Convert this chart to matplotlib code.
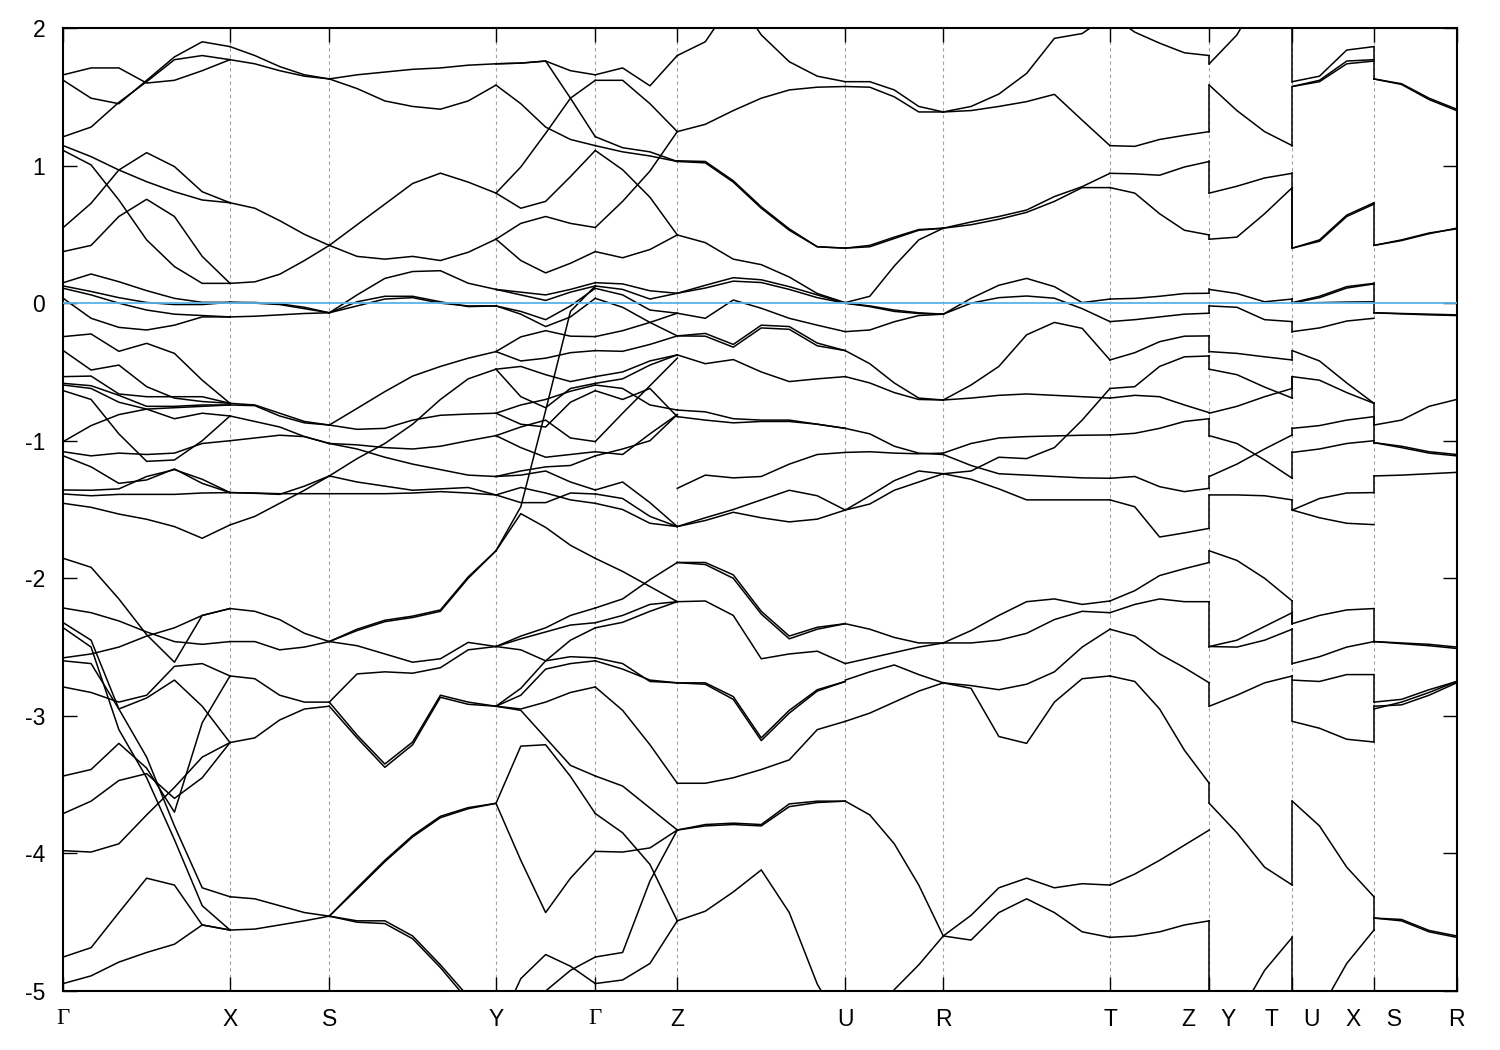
import numpy as np
import matplotlib.pyplot as plt

plt.rcParams['font.family'] = ['Liberation Sans', 'DejaVu Sans']
plt.rcParams['axes.unicode_minus'] = False

# distance along the k-path of the high-symmetry points
kpos = [0.0, 166.7, 266.0, 432.7, 532.0, 614.0, 782.0, 880.0, 1046.7,
        1146.0, 1229.0, 1310.7, 1393.4]
klabels = ['Γ', 'X', 'S', 'Y', 'Γ', 'Z', 'U', 'R', 'T',
           'Z    Y', 'T    U', 'X    S', 'R']

# band energies (eV) read along each segment, evenly spaced samples
seg_GX = [
    [1.66, 1.71, 1.71, 1.60, 1.62, 1.69, 1.77],
    [1.62, 1.49, 1.45, 1.62, 1.79, 1.90, 1.865],
    [1.21, 1.28, 1.46, 1.61, 1.77, 1.80, 1.77],
    [1.145, 1.065, 0.968, 0.883, 0.81, 0.75, 0.73],
    [1.11, 1.005, 0.75, 0.46, 0.266, 0.144, 0.144],
    [0.55, 0.726, 0.968, 1.094, 0.993, 0.81, 0.73],
    [0.375, 0.42, 0.63, 0.755, 0.63, 0.34, 0.144],
    [0.149, 0.212, 0.156, 0.091, 0.035, 0.006, 0.006],
    [0.125, 0.085, 0.04, 0.005, -0.01, -0.01, 0.006],
    [0.108, 0.06, 0.0, -0.05, -0.08, -0.09, -0.10],
    [0.035, -0.11, -0.176, -0.195, -0.16, -0.10, -0.10],
    [-0.243, -0.224, -0.35, -0.292, -0.365, -0.56, -0.728],
    [-0.345, -0.486, -0.45, -0.607, -0.69, -0.715, -0.728],
    [-0.534, -0.53, -0.66, -0.68, -0.68, -0.68, -0.728],
    [-0.583, -0.60, -0.67, -0.75, -0.75, -0.74, -0.74],
    [-0.595, -0.62, -0.72, -0.77, -0.84, -0.80, -0.82],
    [-0.636, -0.70, -0.95, -1.15, -1.14, -1.0, -0.82],
    [-1.006, -0.89, -0.81, -0.77, -0.76, -0.75, -0.74],
    [-1.08, -1.11, -1.09, -1.10, -1.09, -1.02, -1.0],
    [-1.11, -1.19, -1.31, -1.285, -1.205, -1.31, -1.377],
    [-1.358, -1.36, -1.35, -1.26, -1.21, -1.28, -1.377],
    [-1.387, -1.40, -1.39, -1.39, -1.39, -1.38, -1.377],
    [-1.455, -1.484, -1.533, -1.571, -1.624, -1.709, -1.612],
    [-1.855, -1.92, -2.15, -2.41, -2.61, -2.27, -2.22],
    [-2.216, -2.25, -2.31, -2.39, -2.46, -2.48, -2.46],
    [-2.323, -2.45, -2.95, -3.30, -3.80, -4.25, -4.315],
    [-2.36, -2.50, -3.10, -3.45, -3.90, -4.38, -4.557],
    [-2.578, -2.55, -2.50, -2.42, -2.36, -2.27, -2.22],
    [-2.60, -2.62, -2.95, -2.87, -2.74, -2.93, -3.194],
    [-2.79, -2.83, -2.90, -2.85, -2.64, -2.62, -2.71],
    [-3.437, -3.39, -3.20, -3.38, -3.70, -3.05, -2.71],
    [-3.71, -3.62, -3.47, -3.42, -3.60, -3.45, -3.194],
    [-3.98, -3.99, -3.93, -3.72, -3.52, -3.30, -3.194],
    [-4.753, -4.685, -4.43, -4.18, -4.23, -4.52, -4.557],
    [-4.946, -4.89, -4.79, -4.72, -4.66, -4.52, -4.557],
]

seg_XS = [
    [1.865, 1.80, 1.72, 1.66, 1.63],
    [1.77, 1.74, 1.69, 1.65, 1.63],
    [0.73, 0.69, 0.60, 0.50, 0.42],
    [0.144, 0.155, 0.21, 0.31, 0.42],
    [0.006, 0.0, -0.01, -0.04, -0.07],
    [0.006, 0.005, -0.005, -0.03, -0.07],
    [-0.10, -0.095, -0.085, -0.075, -0.07],
    [-0.728, -0.74, -0.80, -0.86, -0.886],
    [-0.74, -0.745, -0.82, -0.87, -0.886],
    [-0.82, -0.86, -0.90, -0.97, -1.02],
    [-1.0, -0.98, -0.96, -0.97, -1.02],
    [-1.377, -1.382, -1.39, -1.33, -1.256],
    [-1.377, -1.38, -1.385, -1.385, -1.385],
    [-1.612, -1.55, -1.455, -1.36, -1.256],
    [-2.22, -2.24, -2.30, -2.40, -2.46],
    [-2.46, -2.46, -2.52, -2.50, -2.46],
    [-2.71, -2.73, -2.85, -2.90, -2.90],
    [-3.194, -3.16, -3.03, -2.95, -2.93],
    [-4.315, -4.33, -4.38, -4.43, -4.456],
    [-4.557, -4.55, -4.52, -4.49, -4.456],
]

seg_SY = [
    [1.63, 1.66, 1.68, 1.70, 1.71, 1.73, 1.74],
    [1.63, 1.56, 1.47, 1.43, 1.41, 1.47, 1.585],
    [0.42, 0.57, 0.72, 0.87, 0.945, 0.88, 0.80],
    [0.42, 0.34, 0.32, 0.34, 0.31, 0.37, 0.465],
    [-0.07, 0.06, 0.18, 0.23, 0.236, 0.145, 0.10],
    [-0.07, 0.01, 0.05, 0.05, 0.01, -0.025, -0.02],
    [-0.07, -0.02, 0.03, 0.04, 0.0, -0.02, -0.02],
    [-0.886, -0.765, -0.643, -0.53, -0.46, -0.40, -0.352],
    [-0.886, -0.917, -0.91, -0.85, -0.815, -0.806, -0.80],
    [-1.02, -1.03, -1.05, -1.06, -1.04, -1.00, -0.963],
    [-1.02, -1.06, -1.12, -1.17, -1.21, -1.25, -1.26],
    [-1.256, -1.13, -1.02, -0.88, -0.70, -0.55, -0.48],
    [-1.256, -1.30, -1.33, -1.36, -1.35, -1.34, -1.394],
    [-1.385, -1.385, -1.385, -1.38, -1.37, -1.38, -1.394],
    [-2.46, -2.37, -2.305, -2.275, -2.23, -1.99, -1.80],
    [-2.46, -2.38, -2.315, -2.285, -2.24, -2.00, -1.80],
    [-2.46, -2.49, -2.55, -2.61, -2.585, -2.466, -2.496],
    [-2.90, -2.695, -2.68, -2.69, -2.65, -2.52, -2.496],
    [-2.93, -3.16, -3.374, -3.21, -2.865, -2.916, -2.93],
    [-2.90, -3.14, -3.35, -3.19, -2.85, -2.90, -2.93],
    [-4.456, -4.25, -4.05, -3.87, -3.73, -3.667, -3.636],
    [-4.456, -4.26, -4.06, -3.88, -3.74, -3.675, -3.636],
    [-4.456, -4.49, -4.49, -4.60, -4.81, -5.04, -5.3],
    [-4.456, -4.50, -4.51, -4.62, -4.83, -5.07, -5.3],
]

seg_YG = [
    [1.74, 1.745, 1.76, 1.69, 1.66],
    [1.74, 1.745, 1.76, 1.49, 1.21],
    [1.585, 1.45, 1.28, 1.19, 1.145],
    [0.80, 0.99, 1.235, 1.49, 1.62],
    [0.80, 0.69, 0.74, 0.92, 1.11],
    [0.465, 0.58, 0.63, 0.58, 0.55],
    [0.465, 0.31, 0.22, 0.29, 0.375],
    [0.10, 0.08, 0.06, 0.10, 0.149],
    [0.10, 0.06, 0.02, 0.08, 0.125],
    [-0.02, -0.06, -0.12, -0.02, 0.108],
    [-0.02, -0.08, -0.17, -0.10, 0.035],
    [-1.80, -1.48, -0.78, -0.06, 0.125],
    [-0.352, -0.245, -0.20, -0.24, -0.243],
    [-0.352, -0.42, -0.40, -0.36, -0.345],
    [-0.48, -0.46, -0.52, -0.57, -0.534],
    [-0.48, -0.68, -0.76, -0.62, -0.583],
    [-0.80, -0.74, -0.70, -0.64, -0.595],
    [-0.80, -0.88, -0.90, -0.72, -0.636],
    [-0.963, -0.90, -0.85, -0.98, -1.006],
    [-0.963, -1.05, -1.12, -1.10, -1.08],
    [-1.26, -1.22, -1.19, -1.18, -1.11],
    [-1.26, -1.25, -1.22, -1.30, -1.358],
    [-1.394, -1.45, -1.45, -1.38, -1.387],
    [-1.394, -1.34, -1.38, -1.43, -1.455],
    [-1.80, -1.53, -1.63, -1.76, -1.855],
    [-2.496, -2.42, -2.36, -2.27, -2.216],
    [-2.496, -2.44, -2.39, -2.34, -2.323],
    [-2.496, -2.52, -2.60, -2.45, -2.36],
    [-2.93, -2.80, -2.60, -2.57, -2.578],
    [-2.93, -2.85, -2.66, -2.62, -2.60],
    [-2.93, -2.95, -2.90, -2.83, -2.79],
    [-2.93, -2.96, -3.16, -3.36, -3.437],
    [-3.636, -3.22, -3.21, -3.44, -3.71],
    [-3.636, -4.05, -4.43, -4.18, -3.985],
    [-5.3, -4.91, -4.735, -4.82, -4.946],
    [-5.4, -5.3, -5.0, -4.85, -4.753],
]

seg_GZ = [
    [1.66, 1.71, 1.58, 1.80],
    [1.62, 1.62, 1.45, 1.247],
    [1.21, 1.13, 1.10, 1.03],
    [1.145, 1.10, 1.07, 1.03],
    [1.11, 0.97, 0.77, 0.496],
    [0.55, 0.74, 0.96, 1.247],
    [0.375, 0.33, 0.39, 0.496],
    [0.149, 0.14, 0.09, 0.072],
    [0.125, 0.10, 0.03, 0.072],
    [0.108, 0.06, -0.05, -0.073],
    [0.035, -0.03, -0.14, -0.073],
    [-0.243, -0.20, -0.14, -0.238],
    [-0.345, -0.35, -0.30, -0.238],
    [-0.534, -0.50, -0.42, -0.376],
    [-0.583, -0.55, -0.45, -0.376],
    [-0.595, -0.62, -0.74, -0.777],
    [-0.636, -0.70, -0.62, -0.825],
    [-1.006, -0.80, -0.60, -0.40],
    [-1.08, -1.10, -0.95, -0.81],
    [-1.11, -1.06, -1.0, -0.81],
    [-1.358, -1.30, -1.45, -1.624],
    [-1.387, -1.42, -1.55, -1.624],
    [-1.455, -1.50, -1.60, -1.624],
    [-1.855, -1.95, -2.06, -2.17],
    [-2.216, -2.15, -2.01, -1.885],
    [-2.323, -2.27, -2.19, -2.17],
    [-2.36, -2.32, -2.24, -2.17],
    [-2.578, -2.62, -2.75, -2.76],
    [-2.60, -2.66, -2.74, -2.76],
    [-2.79, -2.96, -3.21, -3.49],
    [-3.437, -3.51, -3.67, -3.83],
    [-3.71, -3.85, -4.08, -4.49],
    [-3.985, -3.99, -3.96, -3.83],
    [-4.753, -4.72, -4.20, -3.83],
    [-4.946, -4.92, -4.80, -4.49],
]

seg_ZU = [
    [1.80, 1.90, 2.2, 2.5, 2.6, 2.6, 2.6],
    [2.6, 2.5, 2.25, 1.95, 1.755, 1.65, 1.61],
    [1.247, 1.30, 1.40, 1.49, 1.55, 1.57, 1.575],
    [1.035, 1.03, 0.89, 0.70, 0.54, 0.41, 0.40],
    [1.03, 1.02, 0.88, 0.69, 0.53, 0.41, 0.40],
    [0.496, 0.44, 0.32, 0.28, 0.19, 0.07, 0.004],
    [0.072, 0.13, 0.185, 0.17, 0.12, 0.06, 0.0],
    [0.072, 0.11, 0.16, 0.15, 0.10, 0.04, 0.0],
    [-0.073, -0.11, 0.023, -0.037, -0.11, -0.16, -0.207],
    [-0.238, -0.22, -0.30, -0.16, -0.17, -0.29, -0.345],
    [-0.238, -0.24, -0.32, -0.18, -0.19, -0.31, -0.345],
    [-0.376, -0.44, -0.41, -0.50, -0.57, -0.55, -0.534],
    [-0.777, -0.79, -0.84, -0.85, -0.85, -0.88, -0.91],
    [-0.825, -0.85, -0.87, -0.86, -0.86, -0.88, -0.91],
    [-1.346, -1.25, -1.27, -1.26, -1.17, -1.10, -1.085],
    [-1.624, -1.56, -1.50, -1.43, -1.36, -1.40, -1.504],
    [-1.624, -1.58, -1.52, -1.56, -1.59, -1.57, -1.504],
    [-1.885, -1.885, -1.975, -2.24, -2.42, -2.356, -2.33],
    [-1.885, -1.90, -2.0, -2.26, -2.44, -2.37, -2.33],
    [-2.17, -2.165, -2.27, -2.585, -2.55, -2.53, -2.62],
    [-2.76, -2.76, -2.86, -3.16, -2.96, -2.81, -2.75],
    [-2.76, -2.77, -2.88, -3.18, -2.98, -2.82, -2.75],
    [-3.49, -3.49, -3.45, -3.39, -3.32, -3.10, -3.04],
    [-3.83, -3.79, -3.78, -3.79, -3.64, -3.62, -3.62],
    [-3.83, -3.80, -3.79, -3.80, -3.66, -3.63, -3.62],
    [-4.49, -4.42, -4.28, -4.12, -4.43, -4.95, -5.3],
]

seg_UR = [
    [1.61, 1.61, 1.55, 1.43, 1.39],
    [1.575, 1.57, 1.50, 1.39, 1.39],
    [0.40, 0.41, 0.47, 0.53, 0.545],
    [0.40, 0.42, 0.48, 0.535, 0.545],
    [0.004, 0.05, 0.27, 0.46, 0.545],
    [0.0, -0.025, -0.06, -0.075, -0.08],
    [0.0, -0.02, -0.05, -0.07, -0.08],
    [-0.207, -0.195, -0.135, -0.09, -0.08],
    [-0.345, -0.44, -0.58, -0.69, -0.704],
    [-0.534, -0.58, -0.65, -0.70, -0.704],
    [-0.91, -0.95, -1.04, -1.09, -1.10],
    [-1.085, -1.08, -1.09, -1.095, -1.09],
    [-1.504, -1.40, -1.29, -1.22, -1.24],
    [-1.504, -1.46, -1.36, -1.30, -1.24],
    [-2.33, -2.37, -2.43, -2.47, -2.47],
    [-2.62, -2.58, -2.54, -2.50, -2.47],
    [-2.74, -2.68, -2.63, -2.70, -2.76],
    [-3.04, -2.98, -2.90, -2.82, -2.76],
    [-3.62, -3.72, -3.93, -4.23, -4.60],
    [-5.5, -5.3, -4.99, -4.81, -4.60],
]

seg_RT = [
    [1.39, 1.43, 1.52, 1.67, 1.925, 1.96, 2.1],
    [1.39, 1.40, 1.43, 1.465, 1.518, 1.33, 1.145],
    [0.545, 0.59, 0.63, 0.677, 0.775, 0.847, 0.944],
    [0.545, 0.57, 0.61, 0.66, 0.74, 0.84, 0.84],
    [-0.08, 0.035, 0.13, 0.18, 0.12, 0.004, 0.03],
    [-0.08, 0.0, 0.04, 0.052, 0.036, -0.04, -0.134],
    [-0.704, -0.595, -0.46, -0.23, -0.14, -0.183, -0.413],
    [-0.704, -0.69, -0.67, -0.66, -0.67, -0.68, -0.69],
    [-1.09, -1.02, -0.98, -0.97, -0.965, -0.96, -0.958],
    [-1.10, -1.18, -1.24, -1.25, -1.26, -1.27, -1.273],
    [-1.24, -1.22, -1.12, -1.13, -1.05, -0.85, -0.62],
    [-1.24, -1.28, -1.35, -1.43, -1.43, -1.43, -1.43],
    [-2.47, -2.38, -2.27, -2.17, -2.15, -2.19, -2.165],
    [-2.47, -2.47, -2.45, -2.40, -2.30, -2.24, -2.25],
    [-2.76, -2.78, -2.81, -2.77, -2.68, -2.50, -2.37],
    [-2.76, -2.80, -3.15, -3.20, -2.90, -2.73, -2.71],
    [-4.60, -4.45, -4.25, -4.18, -4.25, -4.22, -4.23],
    [-4.60, -4.63, -4.43, -4.33, -4.43, -4.57, -4.61],
]

seg_TZ = [
    [2.1, 1.97, 1.89, 1.82, 1.80],
    [1.145, 1.14, 1.19, 1.22, 1.247],
    [0.944, 0.94, 0.93, 0.99, 1.03],
    [0.84, 0.80, 0.65, 0.53, 0.496],
    [0.03, 0.035, 0.05, 0.07, 0.072],
    [-0.134, -0.12, -0.10, -0.08, -0.073],
    [-0.413, -0.36, -0.28, -0.24, -0.238],
    [-0.62, -0.607, -0.46, -0.39, -0.384],
    [-0.69, -0.67, -0.68, -0.74, -0.796],
    [-0.958, -0.946, -0.91, -0.86, -0.84],
    [-1.273, -1.26, -1.334, -1.37, -1.346],
    [-1.43, -1.48, -1.70, -1.67, -1.637],
    [-2.165, -2.09, -1.98, -1.93, -1.885],
    [-2.25, -2.19, -2.15, -2.17, -2.17],
    [-2.37, -2.42, -2.55, -2.65, -2.76],
    [-2.71, -2.75, -2.95, -3.25, -3.49],
    [-4.23, -4.15, -4.05, -3.94, -3.83],
    [-4.61, -4.60, -4.57, -4.52, -4.49],
]

seg_YT = [
    [1.74, 1.95, 2.3, 2.5],
    [1.585, 1.40, 1.247, 1.145],
    [0.80, 0.85, 0.91, 0.944],
    [0.465, 0.48, 0.65, 0.84],
    [0.10, 0.07, 0.01, 0.03],
    [-0.02, -0.03, -0.12, -0.134],
    [-0.352, -0.365, -0.39, -0.413],
    [-0.48, -0.52, -0.61, -0.69],
    [-0.80, -0.75, -0.68, -0.62],
    [-0.963, -1.02, -1.14, -1.273],
    [-1.26, -1.17, -1.06, -0.958],
    [-1.394, -1.394, -1.40, -1.43],
    [-1.80, -1.87, -2.0, -2.165],
    [-2.496, -2.45, -2.35, -2.25],
    [-2.496, -2.50, -2.45, -2.37],
    [-2.93, -2.85, -2.76, -2.71],
    [-3.636, -3.85, -4.10, -4.23],
    [-5.5, -5.2, -4.85, -4.61],
]

seg_UX = [
    [1.61, 1.65, 1.84, 1.865],
    [1.575, 1.62, 1.76, 1.77],
    [1.575, 1.61, 1.74, 1.76],
    [0.40, 0.46, 0.64, 0.73],
    [0.40, 0.45, 0.63, 0.72],
    [0.004, 0.05, 0.12, 0.144],
    [0.0, 0.04, 0.11, 0.14],
    [0.0, 0.004, 0.008, 0.01],
    [-0.207, -0.18, -0.13, -0.11],
    [-0.345, -0.42, -0.58, -0.728],
    [-0.534, -0.56, -0.65, -0.728],
    [-0.91, -0.89, -0.85, -0.825],
    [-1.085, -1.06, -1.02, -1.0],
    [-1.504, -1.42, -1.38, -1.377],
    [-1.504, -1.56, -1.60, -1.61],
    [-2.33, -2.27, -2.23, -2.22],
    [-2.62, -2.57, -2.50, -2.46],
    [-2.74, -2.75, -2.70, -2.70],
    [-3.04, -3.09, -3.17, -3.19],
    [-3.62, -3.80, -4.10, -4.315],
    [-5.5, -5.15, -4.80, -4.557],
]

seg_SR = [
    [1.63, 1.59, 1.48, 1.40],
    [1.63, 1.595, 1.49, 1.41],
    [0.42, 0.46, 0.51, 0.54],
    [0.42, 0.455, 0.505, 0.545],
    [-0.07, -0.075, -0.08, -0.085],
    [-0.07, -0.078, -0.085, -0.09],
    [-0.886, -0.85, -0.75, -0.70],
    [-1.014, -1.04, -1.08, -1.10],
    [-1.014, -1.05, -1.09, -1.11],
    [-1.256, -1.25, -1.24, -1.23],
    [-2.46, -2.47, -2.48, -2.50],
    [-2.46, -2.475, -2.49, -2.51],
    [-2.90, -2.88, -2.81, -2.75],
    [-2.93, -2.92, -2.85, -2.76],
    [-2.95, -2.90, -2.83, -2.75],
    [-4.47, -4.48, -4.56, -4.60],
    [-4.47, -4.49, -4.57, -4.61],
]

# energies joined by vertical jumps at the path discontinuities
break_ZY = [(1.80, 1.74), (1.247, 1.585), (1.03, 0.80), (0.496, 0.465),
            (0.072, 0.10), (-0.073, -0.02), (-0.238, -0.352), (-0.384, -0.48),
            (-0.796, -0.80), (-0.84, -0.963), (-1.346, -1.26), (-1.637, -1.394),
            (-1.885, -1.80), (-2.17, -2.496), (-2.76, -2.93), (-3.49, -3.636),
            (-4.49, -5.5)]
break_TU = [(2.5, 1.61), (1.145, 1.575), (0.944, 0.40), (0.84, 0.40),
            (0.03, 0.004), (-0.134, -0.207), (-0.413, -0.345), (-0.62, -0.534),
            (-0.69, -0.534), (-0.958, -0.91), (-1.273, -1.085), (-1.43, -1.504),
            (-2.165, -2.33), (-2.25, -2.33), (-2.37, -2.62), (-2.71, -3.04),
            (-4.23, -3.62), (-4.61, -5.5)]
break_XS = [(1.865, 1.63), (0.73, 0.42), (0.144, -0.07), (-0.728, -0.886),
            (-0.825, -1.014), (-1.377, -1.256), (-2.22, -2.46), (-2.70, -2.90),
            (-3.19, -2.93), (-4.315, -4.47), (-4.557, -4.47)]

segments = [(0, 1, seg_GX), (1, 2, seg_XS), (2, 3, seg_SY), (3, 4, seg_YG),
            (4, 5, seg_GZ), (5, 6, seg_ZU), (6, 7, seg_UR), (7, 8, seg_RT),
            (8, 9, seg_TZ), (9, 10, seg_YT), (10, 11, seg_UX), (11, 12, seg_SR)]
breaks = [(9, break_ZY), (10, break_TU), (11, break_XS)]

fig = plt.figure(figsize=(15, 10.5), dpi=100)
ax = fig.add_axes([0.0422, 0.0562, 0.9289, 0.9171])

# dashed lines at the high-symmetry points
for k in kpos[1:-1]:
    ax.axvline(k, color='#a0a0a0', lw=0.8, ls=(0, (3, 3)), zorder=0)

for i0, i1, curves in segments:
    for band in curves:
        xs = np.linspace(kpos[i0], kpos[i1], len(band))
        ax.plot(xs, band, color='black', lw=1.1, zorder=2)

for ib, pairs in breaks:
    for e1, e2 in pairs:
        ax.plot([kpos[ib], kpos[ib]], [e1, e2], color='black', lw=1.1, zorder=2)

# Fermi level
ax.axhline(0, color='#56b4e9', lw=1.3, zorder=3)

ax.set_xlim(kpos[0], kpos[-1])
ax.set_ylim(-5, 2)
ax.set_yticks(range(-5, 3))
ax.set_yticklabels([str(v) for v in range(-5, 3)])
ax.set_xticks(kpos)
ax.set_xticklabels(klabels)
for lab in ax.get_xticklabels():
    if lab.get_text() == 'Γ':
        lab.set_family(['Liberation Serif', 'DejaVu Serif'])
        lab.set_fontsize(19)

ax.tick_params(direction='in', length=10, width=1, top=True, right=True,
               labelsize=16.5)
ax.tick_params(axis='y', pad=13)
ax.tick_params(axis='x', pad=12)
for sp in ax.spines.values():
    sp.set_linewidth(1.5)

fig.savefig('out.png', dpi=100)
